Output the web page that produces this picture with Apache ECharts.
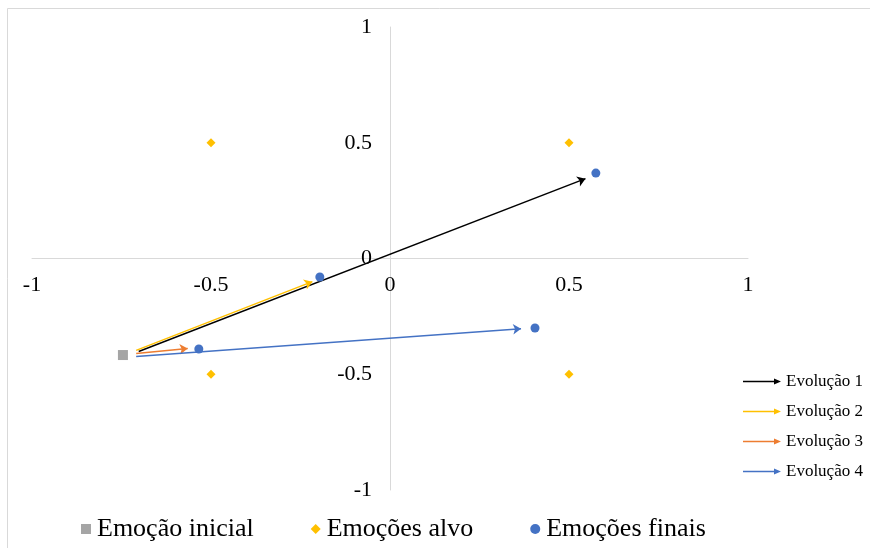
<!DOCTYPE html>
<html>
<head>
<meta charset="utf-8">
<script src="https://cdn.jsdelivr.net/npm/echarts@6/dist/echarts.min.js"></script>
<style>html,body{margin:0;padding:0;background:#fff;}#c{width:870px;height:548px;}</style>
</head>
<body>
<div id="c"></div>
<script>
// ---- data ----
var initialEmotion = [[-0.746, -0.417]];
var targetEmotions = [[-0.5, 0.5], [0.5, 0.5], [-0.5, -0.5], [0.5, -0.5]];
var finalEmotions = [[0.575, 0.369], [-0.196, -0.080], [-0.534, -0.391], [0.405, -0.300]];
var evolutionNames = ['Evolução 1', 'Evolução 2', 'Evolução 3', 'Evolução 4'];
var evolutionColors = ['#000000', '#FFC000', '#ED7D31', '#4472C4'];
var evolutionStarts = [[-0.702, -0.402], [-0.709, -0.397], [-0.709, -0.410], [-0.709, -0.423]];
var evolutionEnds = [[0.546, 0.345], [-0.217, -0.100], [-0.565, -0.389], [0.366, -0.303]];
var axisTicks = [-1, -0.5, 0, 0.5, 1];

var font = 'Liberation Serif';
var arrowIcon = 'path://M0,3.3 L31,3.3 L31,1 L38,4 L31,7 L31,4.7 L0,4.7 Z';

var series = [
  {name: 'Emoção inicial', type: 'scatter', data: initialEmotion, symbol: 'rect', symbolSize: 10,
   itemStyle: {color: '#A5A5A5', opacity: 1}, z: 3},
  {name: 'Emoções alvo', type: 'scatter', data: targetEmotions, symbol: 'diamond', symbolSize: 9,
   itemStyle: {color: '#FFC000', opacity: 1}, z: 3},
  {name: 'Emoções finais', type: 'scatter', data: finalEmotions, symbol: 'circle', symbolSize: 9,
   itemStyle: {color: '#4472C4', opacity: 1}, z: 3}
];
evolutionNames.forEach(function (n, i) {
  series.push({
    name: n, type: 'lines', coordinateSystem: 'cartesian2d',
    symbol: ['none', 'arrow'], symbolSize: 8,
    lineStyle: {color: evolutionColors[i], width: 1.5, opacity: 1},
    itemStyle: {color: evolutionColors[i]},
    data: [{coords: [evolutionStarts[i], evolutionEnds[i]]}], z: 2
  });
});

var gridLeft = 32, gridRight = 122, gridTop = 27, gridBottom = 58;
var W = 870, H = 548;
var gridW = W - gridLeft - gridRight, gridH = H - gridTop - gridBottom;

function fmt(v) { return axisTicks.indexOf(v) >= 0 ? String(v) : ''; }

var chart = echarts.init(document.getElementById('c'), null, {renderer: 'canvas'});
chart.setOption({
  animation: false,
  backgroundColor: '#fff',
  graphic: [{type: 'rect', shape: {x: 7.5, y: 8.5, width: 870, height: 560},
             style: {fill: 'none', stroke: '#D9D9D9', lineWidth: 1}, silent: true}],
  grid: {left: gridLeft, right: gridRight, top: gridTop, bottom: gridBottom,
         containLabel: false, outerBoundsMode: 'none'},
  xAxis: {
    type: 'value', min: -1, max: 1, interval: 0.5, position: 'bottom',
    offset: -gridH / 2,
    axisLine: {onZero: false, lineStyle: {color: '#D9D9D9', width: 1}},
    axisTick: {show: false}, splitLine: {show: false},
    axisLabel: {color: '#000', fontFamily: font, fontSize: 22, margin: 16, formatter: fmt,
                showMinLabel: true, showMaxLabel: true, hideOverlap: false}
  },
  yAxis: {
    type: 'value', min: -1, max: 1, interval: 0.5, position: 'left',
    offset: -gridW / 2,
    axisLine: {onZero: false, lineStyle: {color: '#D9D9D9', width: 1}},
    axisTick: {show: false}, splitLine: {show: false},
    axisLabel: {color: '#000', fontFamily: font, fontSize: 22, margin: 18, formatter: fmt,
                showMinLabel: true, showMaxLabel: true, hideOverlap: false}
  },
  legend: [
    {
      data: ['Emoção inicial', 'Emoções alvo', 'Emoções finais'],
      left: 76, top: 511, orient: 'horizontal',
      itemWidth: 10, itemHeight: 10, itemGap: 57,
      textStyle: {fontFamily: font, fontSize: 26, color: '#000', padding: [0, 0, 0, 1]}
    },
    {
      data: evolutionNames.map(function (n, i) {
        return {name: n, icon: arrowIcon,
                itemStyle: {color: evolutionColors[i], borderWidth: 0},
                lineStyle: {width: 0}};
      }),
      left: 738, top: 368, orient: 'vertical',
      itemWidth: 38, itemHeight: 6, itemGap: 13,
      textStyle: {fontFamily: font, fontSize: 17, color: '#000'}
    }
  ],
  series: series
});
</script>
</body>
</html>
